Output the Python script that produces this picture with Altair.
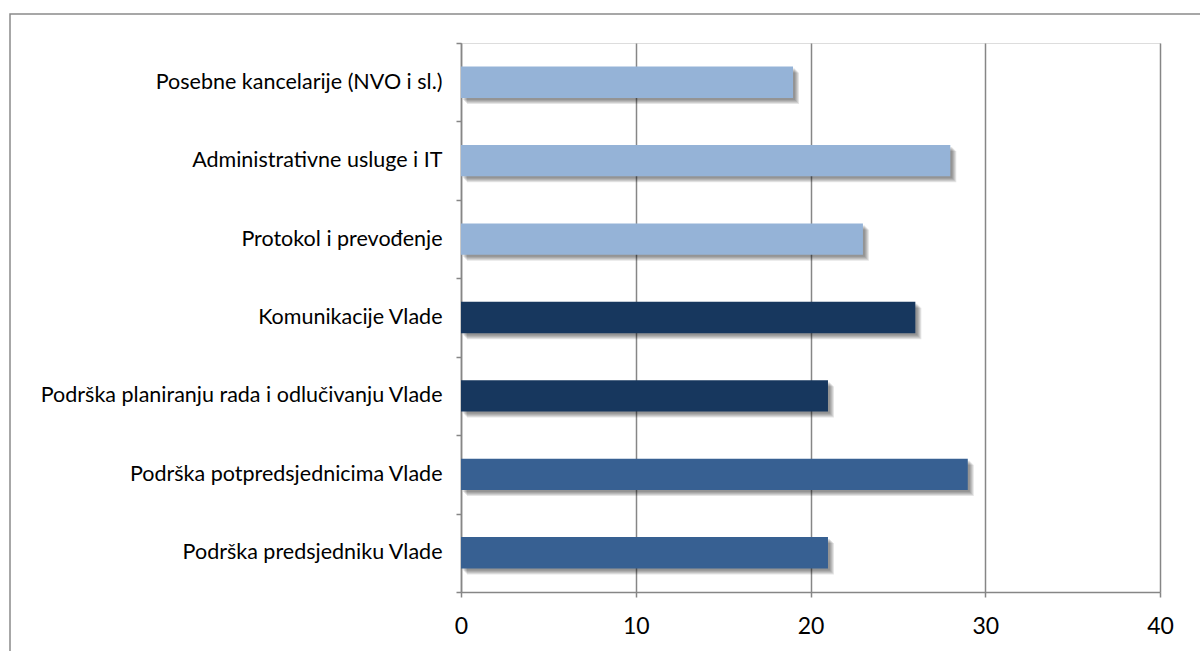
import altair as alt
import pandas as pd

# Categories from top to bottom, their values and colour groups
categories = [
    "Posebne kancelarije (NVO i sl.)",
    "Administrativne usluge i IT",
    "Protokol i prevođenje",
    "Komunikacije Vlade",
    "Podrška planiranju rada i odlučivanju Vlade",
    "Podrška potpredsjednicima Vlade",
    "Podrška predsjedniku Vlade",
]
values = [19, 28, 23, 26, 21, 29, 21]
groups = ["svijetla", "svijetla", "svijetla", "tamna", "tamna", "srednja", "srednja"]

group_domain = ["svijetla", "tamna", "srednja"]
group_colors = ["#95B3D7", "#17375E", "#376092"]

x_ticks = [0, 10, 20, 30, 40]

df = pd.DataFrame({"kategorija": categories, "vrijednost": values, "grupa": groups})

W, H = 699, 549
FONT = "Lato"
BAR_BAND = 0.4

y_enc = alt.Y(
    "kategorija:N",
    sort=categories,
    scale=alt.Scale(paddingInner=0, paddingOuter=0),
    axis=alt.Axis(
        title=None,
        tickBand="extent",
        tickSize=5,
        tickColor="#868686",
        tickWidth=1.5,
        domainColor="#868686",
        domainWidth=1.5,
        labelFont=FONT,
        labelFontSize=21.5,
        labelColor="#000000",
        labelPadding=14,
        labelLimit=600,
        grid=False,
    ),
)

x_enc = alt.X(
    "vrijednost:Q",
    scale=alt.Scale(domain=[0, 40], nice=False),
    axis=alt.Axis(
        title=None,
        values=x_ticks,
        tickSize=5,
        tickColor="#868686",
        tickWidth=1.5,
        domainColor="#868686",
        domainWidth=1.5,
        grid=True,
        gridColor="#868686",
        gridWidth=1.5,
        labelFont=FONT,
        labelFontSize=23,
        labelColor="#000000",
        labelPadding=18,
        labelFlush=False,
    ),
)

base = alt.Chart(df)

# Soft drop shadow built from a few offset translucent copies of the bars
shadows = [
    base.mark_bar(
        color="#000000", opacity=0.10, xOffset=o, yOffset=o, height={"band": BAR_BAND}
    ).encode(x=x_enc, y=y_enc)
    for o in (2, 3, 4, 5, 6)
]

bars = base.mark_bar(height={"band": BAR_BAND}).encode(
    x=x_enc,
    y=y_enc,
    color=alt.Color(
        "grupa:N",
        scale=alt.Scale(domain=group_domain, range=group_colors),
        legend=None,
    ),
)

# Outer chart frame
frame = alt.Chart(pd.DataFrame({"f": [0]})).mark_rect(
    fill=None, stroke="#8a8a8a", strokeWidth=1.5
).encode(
    x=alt.value(-451), x2=alt.value(W + 100),
    y=alt.value(-29), y2=alt.value(H + 100),
)

chart = alt.layer(frame, *shadows, bars).properties(
    width=W,
    height=H,
    autosize=alt.AutoSizeParams(type="none"),
    padding={"left": 461, "top": 43, "right": 40, "bottom": 59},
).configure_view(stroke=None).configure(background="#ffffff")

chart.save("out.html", embed_options={"renderer": "svg", "actions": False})
